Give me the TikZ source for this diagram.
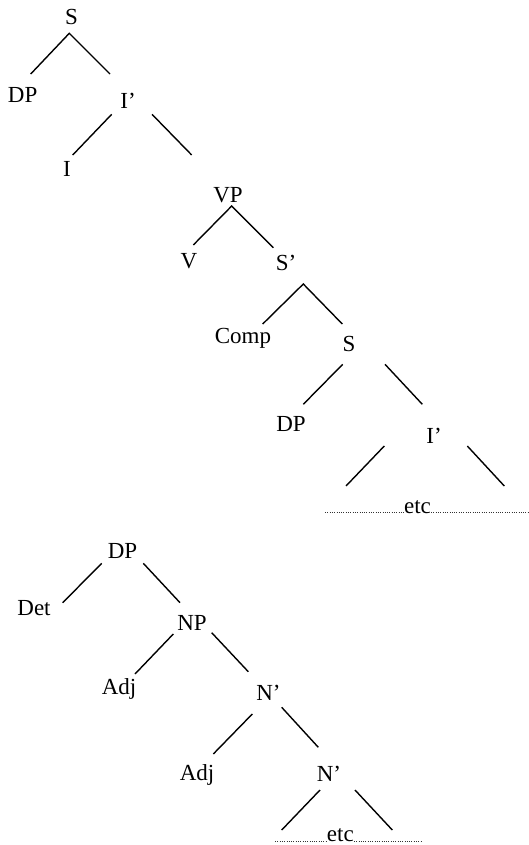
\documentclass[tikz,border=0pt]{standalone}
\usepackage{fontspec}
\setmainfont{Liberation Serif}
\begin{document}
\begin{tikzpicture}[x=1pt,y=-1pt,
  lbl/.style={anchor=base,inner sep=0pt,font=\fontsize{23}{27}\selectfont},
  branch/.style={line width=1.4pt,line cap=butt},
  dots/.style={line width=0.7pt,dash pattern=on 0.7pt off 1.6pt,black!80}]
\useasboundingbox (0,0) rectangle (528,845);

% ---- clause tree ----
\node[lbl] (s1)   at (71.5,25)  {S};
\node[lbl] (dp1)  at (22.7,103) {DP};
\node[lbl] (ib1)  at (128,109)  {I’};
\node[lbl] (i1)   at (67,177)   {I};
\node[lbl] (vp)   at (228,202)  {VP};
\node[lbl] (v)    at (189,268)  {V};
\node[lbl] (sb)   at (286,270)  {S’};
\node[lbl] (comp) at (243,343.5){Comp};
\node[lbl] (s2)   at (349,351.7){S};
\node[lbl] (dp2)  at (291,431.7){DP};
\node[lbl] (ib2)  at (434,443)  {I’};
\node[lbl] (etc1) at (417.5,513){etc};

\coordinate (s1a)  at (69.3,33.3);
\coordinate (s1l)  at (30.7,74);
\coordinate (s1r)  at (110,74);
\coordinate (ib1l) at (111.7,114.3);
\coordinate (ib1r) at (152,114.3);
\coordinate (ib1le) at (72.7,155);
\coordinate (ib1re) at (191.7,155);
\coordinate (vpa)  at (231.7,206);
\coordinate (vpl)  at (193.3,245);
\coordinate (vpr)  at (273.3,247.7);
\coordinate (sba)  at (303.3,284);
\coordinate (sbl)  at (262.7,324);
\coordinate (sbr)  at (342.3,324);
\coordinate (s2l)  at (342.7,364.3);
\coordinate (s2r)  at (385,364.3);
\coordinate (s2le) at (303.3,404.3);
\coordinate (s2re) at (422.3,404.3);
\coordinate (ib2l) at (384.3,446);
\coordinate (ib2r) at (467.3,446);
\coordinate (ib2le) at (346,486);
\coordinate (ib2re) at (504.3,486);
\coordinate (d1l)  at (325,512.3);
\coordinate (d1r)  at (528,512.3);

\draw[branch] (s1l) -- (s1a) -- (s1r);
\draw[branch] (ib1l) -- (ib1le);
\draw[branch] (ib1r) -- (ib1re);
\draw[branch] (vpl) -- (vpa) -- (vpr);
\draw[branch] (sbl) -- (sba) -- (sbr);
\draw[branch] (s2l) -- (s2le);
\draw[branch] (s2r) -- (s2re);
\draw[branch] (ib2l) -- (ib2le);
\draw[branch] (ib2r) -- (ib2re);
\draw[dots] (d1l) -- (etc1.west |- d1l);
\draw[dots] (etc1.east |- d1r) -- (d1r);

% ---- noun phrase tree ----
\node[lbl] (dp3)  at (122.5,558){DP};
\node[lbl] (det)  at (34,615)   {Det};
\node[lbl] (np)   at (192,630)  {NP};
\node[lbl] (adj1) at (119,694)  {Adj};
\node[lbl] (nb1)  at (268.5,700){N’};
\node[lbl] (adj2) at (197,780)  {Adj};
\node[lbl] (nb2)  at (329,781.7){N’};
\node[lbl] (etc2) at (340.3,841.5){etc};

\coordinate (dp3l)  at (101.7,563.3);
\coordinate (dp3r)  at (143.3,563.3);
\coordinate (dp3le) at (62.7,602.7);
\coordinate (dp3re) at (180,602.7);
\coordinate (npl)   at (173.3,634);
\coordinate (npr)   at (211.7,632.7);
\coordinate (nple)  at (135,674);
\coordinate (npre)  at (248.3,671.7);
\coordinate (nb1l)  at (252.3,714);
\coordinate (nb1r)  at (281.7,707.3);
\coordinate (nb1le) at (213.3,754);
\coordinate (nb1re) at (318.3,747.3);
\coordinate (nb2l)  at (320,790);
\coordinate (nb2r)  at (355,790);
\coordinate (nb2le) at (281.7,830);
\coordinate (nb2re) at (392.3,830);
\coordinate (d2l)   at (275,841.8);
\coordinate (d2r)   at (421.7,841.8);

\draw[branch] (dp3l) -- (dp3le);
\draw[branch] (dp3r) -- (dp3re);
\draw[branch] (npl) -- (nple);
\draw[branch] (npr) -- (npre);
\draw[branch] (nb1l) -- (nb1le);
\draw[branch] (nb1r) -- (nb1re);
\draw[branch] (nb2l) -- (nb2le);
\draw[branch] (nb2r) -- (nb2re);
\draw[dots] (d2l) -- (etc2.west |- d2l);
\draw[dots] (etc2.east |- d2r) -- (d2r);
\end{tikzpicture}
\end{document}
